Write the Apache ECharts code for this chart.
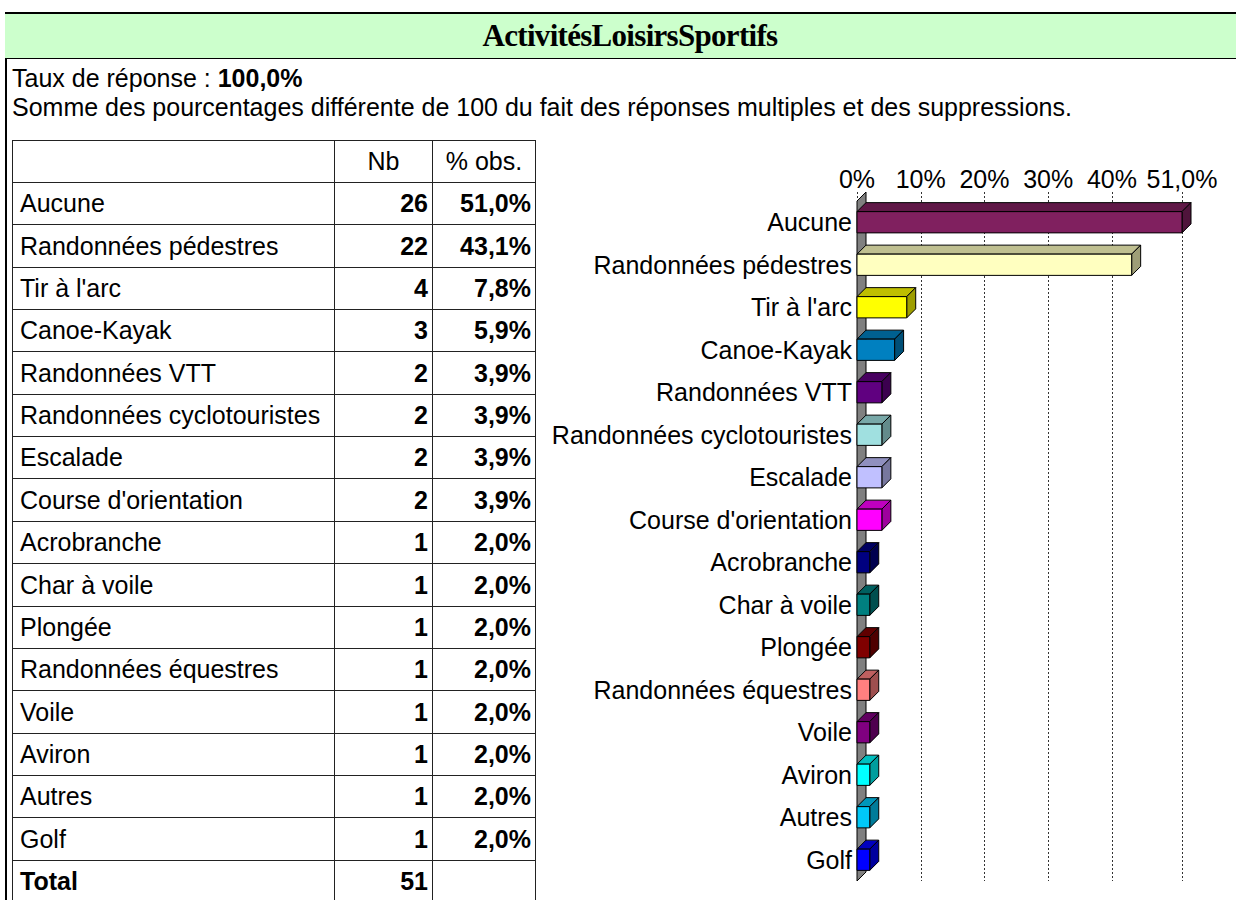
<!DOCTYPE html>
<html>
<head>
<meta charset="utf-8">
<script src="https://cdn.jsdelivr.net/npm/echarts@6/dist/echarts.min.js"></script>
<style>
  html, body { margin: 0; padding: 0; background: #fff; }
  body { width: 1236px; height: 900px; position: relative; overflow: hidden;
         font-family: "Liberation Sans", Arial, sans-serif; color: #000; }
  #frameLeft { position: absolute; left: 5px; top: 12px; width: 2px; height: 900px; background: #000; }
  #titleBar { position: absolute; left: 5px; top: 12px; width: 1260px; height: 44px;
              background: #CCFFCC; border-top: 2px solid #000; border-bottom: 1px solid #000; }
  #title { position: absolute; left: 0; width: 1260px; top: 19px; text-align: center;
           font-family: "Liberation Serif", "Times New Roman", serif; font-weight: bold; font-size: 31px;
           letter-spacing: -0.7px; line-height: 34px; }
  .line { position: absolute; left: 12px; font-size: 25px; line-height: 28px; white-space: nowrap; }
  .cell { position: absolute; box-sizing: border-box; border: 1px solid #222; font-size: 25px;
          display: flex; align-items: center; white-space: nowrap; }
  .lbl { padding-left: 7px; justify-content: flex-start; }
  .num { padding-right: 4px; justify-content: flex-end; font-weight: bold; }
  .hdr { justify-content: center; }
  #chart { position: absolute; left: 540px; top: 150px; width: 696px; height: 750px; }
</style>
</head>
<body>
<div id="frameLeft"></div>
<div id="titleBar"></div>
<div id="title"></div>
<div class="line" id="line1" style="top:64px"></div>
<div class="line" id="line2" style="top:93px"></div>
<div id="table"></div>
<div id="chart"></div>
<script>
// ---------- data ----------
const titleText = "ActivitésLoisirsSportifs";
const responseRate = "100,0%";
const noteText = "Somme des pourcentages différente de 100 du fait des réponses multiples et des suppressions.";
const categories = ["Aucune", "Randonnées pédestres", "Tir à l'arc", "Canoe-Kayak", "Randonnées VTT",
  "Randonnées cyclotouristes", "Escalade", "Course d'orientation", "Acrobranche", "Char à voile",
  "Plongée", "Randonnées équestres", "Voile", "Aviron", "Autres", "Golf"];
const counts = [26, 22, 4, 3, 2, 2, 2, 2, 1, 1, 1, 1, 1, 1, 1, 1];
const percents = [51.0, 43.1, 7.8, 5.9, 3.9, 3.9, 3.9, 3.9, 2.0, 2.0, 2.0, 2.0, 2.0, 2.0, 2.0, 2.0];
const totalCount = 51;
const headerLabels = ["", "Nb", "% obs."];
const totalLabel = "Total";
const axisTicks = [0, 10, 20, 30, 40, 51];
const axisTickLabels = ["0%", "10%", "20%", "30%", "40%", "51,0%"];
const barColors = ["#80205F", "#FFFFC0", "#FFFF00", "#0080C0", "#600080", "#A0E0E0", "#C0C0FF", "#FF00FF",
  "#000080", "#008080", "#800000", "#FF8080", "#800080", "#00FFFF", "#00C8F8", "#0000FF"];

// ---------- header texts ----------
document.getElementById('title').textContent = titleText;
document.getElementById('line1').innerHTML = 'Taux de réponse : <b>' + responseRate + '</b>';
document.getElementById('line2').textContent = noteText;

// ---------- table ----------
const fmtPct = v => v.toFixed(1).replace('.', ',') + '%';
const colX = [12, 334, 432, 535];
const hdrTop = 140, hdrH = 42, rowH = 42.35;
const tbl = document.getElementById('table');
function cell(x0, x1, y0, y1, text, cls, bold) {
  const d = document.createElement('div');
  d.className = 'cell ' + cls;
  d.style.left = x0 + 'px'; d.style.top = y0 + 'px';
  d.style.width = (x1 - x0 + 1) + 'px'; d.style.height = (y1 - y0 + 1) + 'px';
  if (bold) d.style.fontWeight = 'bold';
  d.textContent = text;
  tbl.appendChild(d);
}
const rowTop = i => Math.round(hdrTop + hdrH + i * rowH);
headerLabels.forEach((t, i) => cell(colX[i], colX[i + 1], hdrTop, hdrTop + hdrH, t, 'hdr'));
categories.forEach((c, i) => {
  const y0 = rowTop(i), y1 = rowTop(i + 1);
  cell(colX[0], colX[1], y0, y1, c, 'lbl');
  cell(colX[1], colX[2], y0, y1, String(counts[i]), 'num');
  cell(colX[2], colX[3], y0, y1, fmtPct(percents[i]), 'num');
});
{
  const n = categories.length, y0 = rowTop(n), y1 = rowTop(n + 1);
  cell(colX[0], colX[1], y0, y1, totalLabel, 'lbl', true);
  cell(colX[1], colX[2], y0, y1, String(totalCount), 'num');
  cell(colX[2], colX[3], y0, y1, '', 'num');
}

// ---------- chart ----------
function shade(hex, f) {
  const n = parseInt(hex.slice(1), 16);
  const r = Math.round(((n >> 16) & 255) * f), g = Math.round(((n >> 8) & 255) * f), b = Math.round((n & 255) * f);
  return 'rgb(' + r + ',' + g + ',' + b + ')';
}
const DX = 9, DY = 9, BAR_RATIO = 0.5;
const chart = echarts.init(document.getElementById('chart'), null, { renderer: 'svg' });
const lastIdx = categories.length - 1;
chart.setOption({
  animation: false,
  grid: { left: 317, top: 51, right: 54, bottom: 19 },
  xAxis: {
    type: 'value', position: 'top', min: 0, max: 51,
    axisLine: { show: false }, axisTick: { show: false }, splitLine: { show: false },
    axisLabel: {
      customValues: axisTicks, margin: 10, fontSize: 25, color: '#000',
      fontFamily: 'Liberation Sans',
      formatter: v => axisTickLabels[axisTicks.indexOf(v)]
    }
  },
  yAxis: {
    type: 'category', inverse: true, data: categories,
    axisLine: { show: false }, axisTick: { show: false }, splitLine: { show: false },
    axisLabel: { margin: 5, fontSize: 25, color: '#000', fontFamily: 'Liberation Sans' }
  },
  series: [
    { // gridlines
      type: 'custom', z: 1, silent: true,
      data: axisTicks.map(v => [v]),
      encode: { x: 0 },
      renderItem(params, api) {
        const band = api.size([0, 1])[1];
        const top = api.coord([api.value(0), 0])[1] - band / 2;
        const bot = api.coord([api.value(0), lastIdx])[1] + band / 2;
        const x = Math.round(api.coord([api.value(0), 0])[0]) + 0.5;
        return { type: 'line', shape: { x1: x, y1: top - DY, x2: x, y2: bot },
                 style: { stroke: '#333', lineWidth: 1, lineDash: [2, 2] } };
      }
    },
    { // side wall
      type: 'custom', z: 2, silent: true,
      data: [[0]],
      encode: { x: 0 },
      renderItem(params, api) {
        const band = api.size([0, 1])[1];
        const p0 = api.coord([0, 0]), p1 = api.coord([0, lastIdx]);
        const top = p0[1] - band / 2, bot = p1[1] + band / 2, x = p0[0];
        return { type: 'polygon',
                 shape: { points: [[x, bot], [x, top], [x + DX, top - DY], [x + DX, bot - DY]] },
                 style: { fill: '#808080', stroke: '#000', lineWidth: 1 } };
      }
    },
    { // 3D bars
      type: 'custom', z: 3,
      data: percents.map((v, i) => [v, i]),
      encode: { x: 0, y: 1 },
      renderItem(params, api) {
        const v = api.value(0), c = api.value(1);
        const p0 = api.coord([0, c]), p1 = api.coord([v, c]);
        const h = api.size([0, 1])[1] * BAR_RATIO;
        const x0 = p0[0], x1 = p1[0], yT = p0[1] - h / 2, yB = p0[1] + h / 2;
        const col = barColors[c];
        const st = { stroke: '#000', lineWidth: 1, lineJoin: 'miter' };
        return { type: 'group', children: [
          { type: 'polygon', shape: { points: [[x0, yT], [x0 + DX, yT - DY], [x1 + DX, yT - DY], [x1, yT]] },
            style: Object.assign({ fill: shade(col, 0.75) }, st) },
          { type: 'polygon', shape: { points: [[x1, yT], [x1 + DX, yT - DY], [x1 + DX, yB - DY], [x1, yB]] },
            style: Object.assign({ fill: shade(col, 0.62) }, st) },
          { type: 'rect', shape: { x: x0, y: yT, width: x1 - x0, height: h },
            style: Object.assign({ fill: col }, st) }
        ] };
      }
    }
  ]
});
</script>
</body>
</html>
